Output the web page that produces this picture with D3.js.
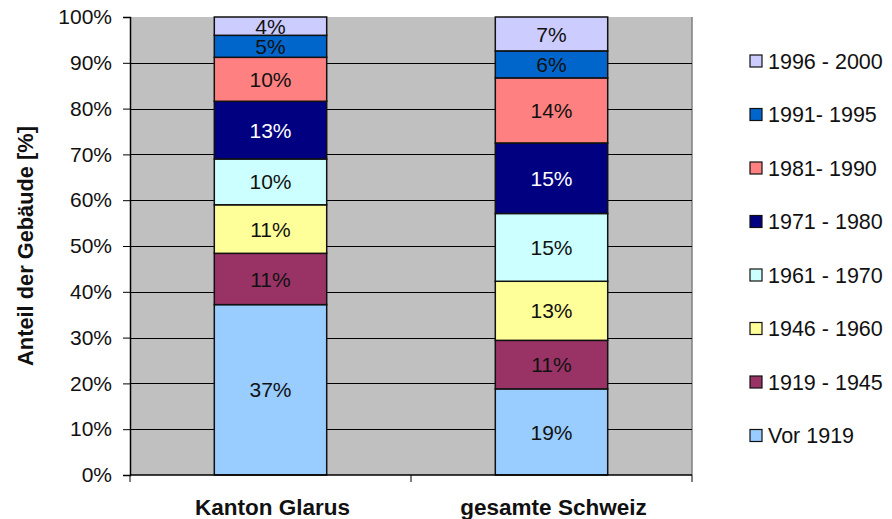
<!DOCTYPE html>
<html>
<head>
<meta charset="utf-8">
<script src="https://cdn.jsdelivr.net/npm/d3@7"></script>
<style>
  body { margin: 0; background: #fff; }
  text { font-family: Arial, "Liberation Sans", sans-serif; }
</style>
</head>
<body>
<div id="chart"></div>
<script>
//Data (bottom to top in the stack)
var categories = ["Kanton Glarus", "gesamte Schweiz"];
var periods = ["Vor 1919", "1919 - 1945", "1946 - 1960", "1961 - 1970", "1971 - 1980", "1981- 1990", "1991- 1995", "1996 - 2000"];
var glarus = [37.2, 11.2, 10.6, 10.0, 12.6, 9.6, 4.8, 4.0];
var schweiz = [18.8, 10.6, 12.9, 14.8, 15.4, 14.2, 5.9, 7.4];
var colors = ["#99CCFF", "#993366", "#FFFF99", "#CCFFFF", "#000080", "#FF8080", "#0066CC", "#CCCCFF"];
var yTicks = [0, 10, 20, 30, 40, 50, 60, 70, 80, 90, 100];

//Width and height
var w = 892;
var h = 519;
var plot = {left: 130, right: 692, top: 17, bottom: 475};

var svg = d3.select("#chart")
    .append("svg")
    .attr("width", w)
    .attr("height", h);

var x = d3.scaleBand()
    .domain(categories)
    .range([plot.left, plot.right])
    .padding(0);

var y = d3.scaleLinear()
    .domain([0, 100])
    .range([plot.bottom, plot.top]);

var barW = x.bandwidth() * 0.4;

//Plot area
svg.append("rect")
    .attr("x", plot.left)
    .attr("y", plot.top)
    .attr("width", plot.right - plot.left)
    .attr("height", plot.bottom - plot.top)
    .attr("fill", "#C0C0C0");

svg.append("line")
    .attr("x1", plot.right).attr("x2", plot.right)
    .attr("y1", plot.top).attr("y2", plot.bottom)
    .attr("stroke", "#808080")
    .attr("stroke-width", 1.5);

//Gridlines
svg.selectAll(".grid")
    .data(yTicks.slice(1, -1))
    .enter()
    .append("line")
    .attr("class", "grid")
    .attr("x1", plot.left).attr("x2", plot.right)
    .attr("y1", function(d) { return Math.round(y(d)) + 0.5; })
    .attr("y2", function(d) { return Math.round(y(d)) + 0.5; })
    .attr("stroke", "#000")
    .attr("stroke-width", 1);

//Stacked data
var rows = categories.map(function(c, i) {
    var vals = i == 0 ? glarus : schweiz;
    var r = {cat: c};
    periods.forEach(function(p, j) { r[p] = vals[j]; });
    return r;
});
var series = d3.stack().keys(periods)(rows);

var groups = svg.selectAll(".serie")
    .data(series)
    .enter()
    .append("g")
    .attr("class", "serie");

groups.selectAll("rect")
    .data(function(s, i) { return s.map(function(d) { return {d: d, i: i}; }); })
    .enter()
    .append("rect")
    .attr("x", function(o) { return x(o.d.data.cat) + (x.bandwidth() - barW) / 2; })
    .attr("y", function(o) { return y(o.d[1]); })
    .attr("width", barW)
    .attr("height", function(o) { return y(o.d[0]) - y(o.d[1]); })
    .attr("fill", function(o) { return colors[o.i]; })
    .attr("stroke", "#111")
    .attr("stroke-width", 1.5);

groups.selectAll("text")
    .data(function(s, i) { return s.map(function(d) { return {d: d, i: i}; }); })
    .enter()
    .append("text")
    .attr("x", function(o) { return x(o.d.data.cat) + x.bandwidth() / 2; })
    .attr("y", function(o) { return (y(o.d[0]) + y(o.d[1])) / 2; })
    .attr("dy", "0.36em")
    .attr("text-anchor", "middle")
    .style("font-size", "21px")
    .attr("fill", function(o) { return o.i == 4 ? "#fff" : "#111"; })
    .text(function(o) { return Math.round(o.d[1] - o.d[0]) + "%"; });

//Y axis
var yAxis = d3.axisLeft(y)
    .tickValues(yTicks)
    .tickSize(7)
    .tickPadding(11)
    .tickFormat(function(d) { return d + "%"; });

var gy = svg.append("g")
    .attr("transform", "translate(" + plot.left + ",0)")
    .call(yAxis);
gy.select(".domain").attr("stroke", "#000").attr("stroke-width", 1.5);
gy.selectAll(".tick line").attr("stroke", "#000");
gy.selectAll("text")
    .style("font-size", "21px")
    .style("font-family", "Arial, 'Liberation Sans', sans-serif")
    .attr("fill", "#111");

//X axis
var gx = svg.append("g")
    .attr("transform", "translate(0," + plot.bottom + ")");
gx.append("line")
    .attr("x1", plot.left).attr("x2", plot.right)
    .attr("stroke", "#000").attr("stroke-width", 1.5);
gx.selectAll(".xtick")
    .data(x.domain().concat([null]))
    .enter()
    .append("line")
    .attr("x1", function(d) { return d ? x(d) : plot.right; })
    .attr("x2", function(d) { return d ? x(d) : plot.right; })
    .attr("y1", 0).attr("y2", 7)
    .attr("stroke", "#000");
gx.selectAll(".xlabel")
    .data(categories)
    .enter()
    .append("text")
    .attr("x", function(d) { return x(d) + x.bandwidth() / 2 + 2; })
    .attr("y", 40)
    .attr("text-anchor", "middle")
    .style("font-size", "22.5px")
    .style("font-weight", "bold")
    .attr("fill", "#111")
    .text(function(d) { return d; });

//Y title
svg.append("text")
    .attr("transform", "translate(33," + (plot.top + plot.bottom) / 2 + ") rotate(-90)")
    .attr("text-anchor", "middle")
    .style("font-size", "21.8px")
    .style("font-weight", "bold")
    .attr("fill", "#111")
    .text("Anteil der Gebäude [%]");

//Legend
var legendOrder = periods.slice().reverse();
var legend = svg.selectAll(".legend")
    .data(legendOrder)
    .enter()
    .append("g")
    .attr("class", "legend")
    .attr("transform", function(d, i) { return "translate(750," + (61 + i * 53.5) + ")"; });

legend.append("rect")
    .attr("x", 0).attr("y", -6)
    .attr("width", 12).attr("height", 12)
    .attr("fill", function(d) { return colors[periods.indexOf(d)]; })
    .attr("stroke", "#111")
    .attr("stroke-width", 1.2);

legend.append("text")
    .attr("x", 18)
    .attr("dy", "0.36em")
    .style("font-size", "21.5px")
    .attr("fill", "#111")
    .text(function(d) { return d; });
</script>
</body>
</html>
